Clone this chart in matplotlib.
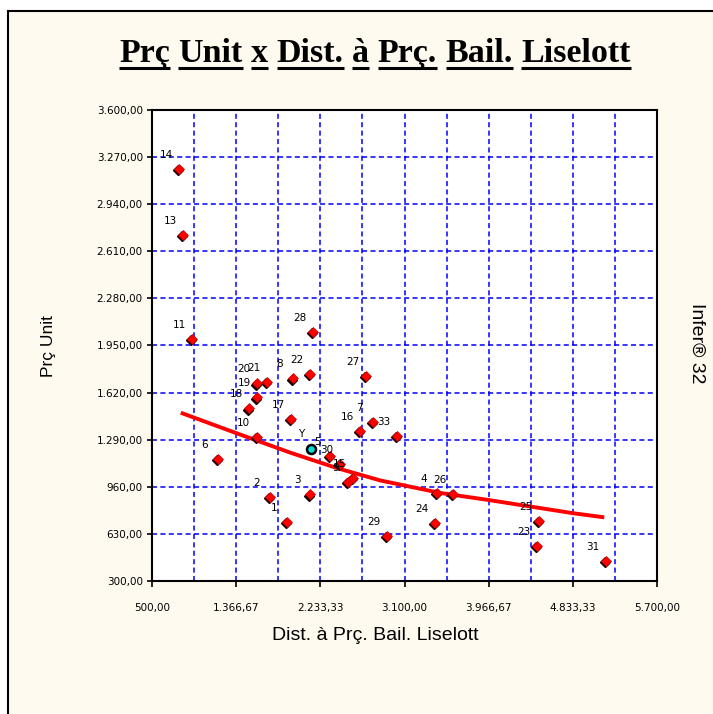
import matplotlib
matplotlib.use("Agg")
import matplotlib.pyplot as plt
from matplotlib.lines import Line2D
from matplotlib.patches import Rectangle
from matplotlib.ticker import FixedLocator, FuncFormatter
from matplotlib.transforms import offset_copy

# observations: id, distance, unit price
point_ids = ['1', '2', '3', '4', '5', '6', '7', '8', '9', '10', '11', '13', '14', '15', '16',
             '17', '18', '19', '20', '21', '22', '23', '24', '25', '26', '27', '28', '29',
             '30', '31', '33']
dist = [1887, 1715, 2127, 3435, 2333, 1180, 2773, 1949, 2521, 1578, 912, 819, 778, 2567, 2642,
        1931, 1502, 1584, 1578, 1681, 2127, 4467, 3414, 4488, 3596, 2704, 2155, 2923,
        2436, 5172, 3020]
price = [715, 891, 907, 917, 1176, 1155, 1416, 1720, 996, 1311, 1995, 2724, 3186, 1020, 1353,
         1433, 1510, 1587, 1685, 1696, 1750, 547, 708, 722, 910, 1736, 2047, 615,
         1120, 442, 1316]

# inferred point
infer_label = 'Y'
infer_dist = 2137
infer_price = 1223

# fitted trend curve
trend_x = [796, 1372, 1921, 2400, 2848, 3466, 3970, 4845, 5157]
trend_y = [1479, 1335, 1200, 1092, 1005, 917, 867, 774, 746]

x_ticks = [500, 1366.67, 2233.33, 3100, 3966.67, 4833.33, 5700]
y_ticks = [300, 630, 960, 1290, 1620, 1950, 2280, 2610, 2940, 3270, 3600]

title = 'Prç Unit x Dist. à Prç. Bail. Liselott'
x_title = 'Dist. à Prç. Bail. Liselott'
y_title = 'Prç Unit'
side_note = 'Infer® 32'

W, H = 713, 714
cream = '#fffaf0'

fig = plt.figure(figsize=(W / 100, H / 100), dpi=100, facecolor='white')
fig.add_artist(Rectangle((8 / W, -0.02), 1.05, 1.02 - 11 / H, transform=fig.transFigure,
                         facecolor=cream, edgecolor='black', linewidth=1.5, zorder=-5))

ax = fig.add_axes([152 / W, 1 - 581 / H, 505 / W, 471 / H])
ax.set_zorder(2)
ax.set_facecolor('white')
ax.set_xlim(500, 5700)
ax.set_ylim(300, 3600)


def br_num(v, pos=None):
    s = f'{v:,.2f}'
    return s.replace(',', '#').replace('.', ',').replace('#', '.')


ax.xaxis.set_major_locator(FixedLocator(x_ticks))
ax.xaxis.set_minor_locator(FixedLocator([500 + 433.333 * k for k in range(13)]))
ax.yaxis.set_major_locator(FixedLocator(y_ticks))
ax.xaxis.set_major_formatter(FuncFormatter(br_num))
ax.yaxis.set_major_formatter(FuncFormatter(br_num))

ax.tick_params(axis='x', which='major', length=4.5, width=1.2, pad=11, labelsize=7.5)
ax.tick_params(axis='y', which='major', length=3.6, width=1.2, pad=3, labelsize=7.5)
ax.tick_params(which='minor', length=0)

grid_kw = dict(color='#0000ff', linewidth=1.1, linestyle=(0, (3.3, 2.2)))
ax.grid(True, axis='x', which='both', **grid_kw)
ax.grid(True, axis='y', which='major', **grid_kw)
ax.set_axisbelow(True)
for sp in ax.spines.values():
    sp.set_linewidth(1.5)
    sp.set_color('black')

# trend curve
ax.plot(trend_x, trend_y, color='#ff0000', linewidth=2.8, zorder=3,
        solid_capstyle='butt', solid_joinstyle='round')

# points with a dark drop shadow
shadow = offset_copy(ax.transData, fig=fig, x=-1, y=-1.2, units='dots')
ax.plot(dist, price, 'D', color='#200000', markersize=5.4, transform=shadow, zorder=4)
ax.plot(dist, price, 'D', color='#ff0000', markeredgecolor='#d00000', markeredgewidth=0.5,
        markersize=5.4, zorder=5)
ax.plot([infer_dist], [infer_price], 'o', color='#00e0e0', markeredgecolor='black',
        markeredgewidth=1.8, markersize=6.5, zorder=6)

for lab, xv, yv in zip(point_ids, dist, price):
    ax.annotate(lab, (xv, yv), xytext=(-13, 14), textcoords='offset pixels',
                ha='center', va='center', fontsize=7.5, zorder=7)
ax.annotate(infer_label, (infer_dist, infer_price), xytext=(-10, 15), textcoords='offset pixels',
            ha='center', va='center', fontsize=7.5, zorder=7)

# axis titles
fig.text(48 / W, 1 - 346 / H, y_title, rotation=90, ha='center', va='center',
         family='Liberation Sans', fontsize=12.5)
fig.text(375 / W, 1 - 636 / H, x_title, ha='center', va='center',
         family='Liberation Sans', fontsize=14)
fig.text(697 / W, 1 - 343 / H, side_note, rotation=-90, ha='center', va='center',
         family='Liberation Sans', fontsize=14)

# title: each word underlined separately
title_kw = dict(family='Liberation Serif', weight='bold', fontsize=24.5, va='baseline')
fig.canvas.draw()
renderer = fig.canvas.get_renderer()
words = title.split(' ')
word_texts = [fig.text(0, 0, w, **title_kw) for w in words]
widths = [t.get_window_extent(renderer).width for t in word_texts]
t_ab = fig.text(0, 0, 'a b', **title_kw)
t_a = fig.text(0, 0, 'ab', **title_kw)
space_w = t_ab.get_window_extent(renderer).width - t_a.get_window_extent(renderer).width
t_ab.remove()
t_a.remove()
total = sum(widths) + space_w * (len(words) - 1)
x0 = 375 - total / 2
base_y = 1 - 62 / H
ul_y = 1 - 68 / H
for t, w in zip(word_texts, widths):
    t.set_position((x0 / W, base_y))
    fig.add_artist(Line2D([x0 / W, (x0 + w) / W], [ul_y, ul_y], transform=fig.transFigure,
                          color='black', linewidth=2.2, solid_capstyle='butt'))
    x0 += w + space_w

fig.savefig('out.png', dpi=100, facecolor=fig.get_facecolor())
